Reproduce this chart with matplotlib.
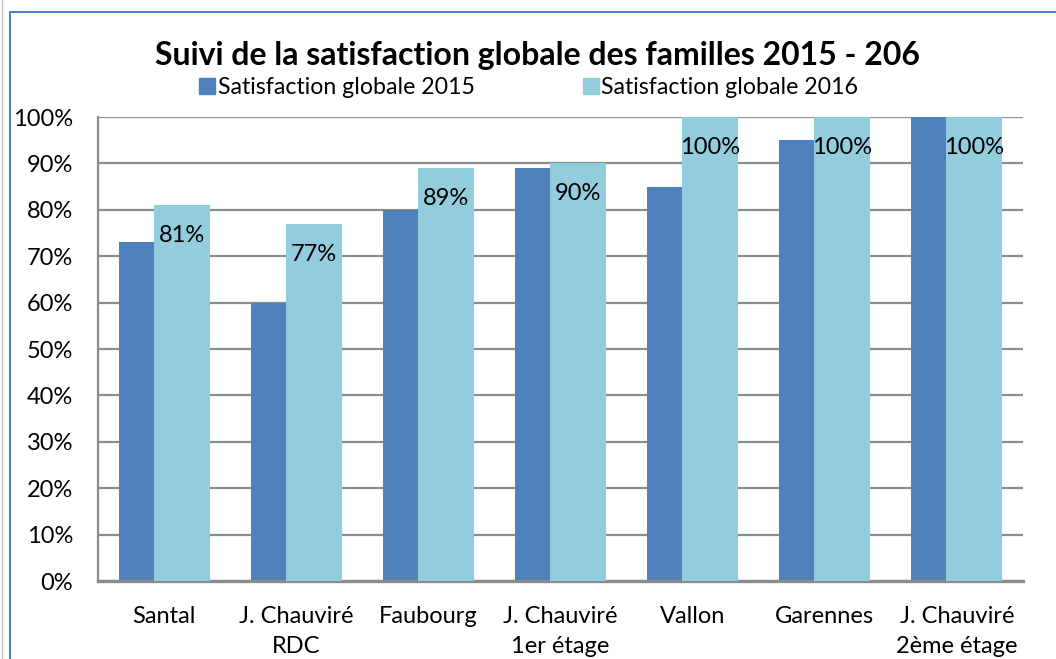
import matplotlib.pyplot as plt
import numpy as np
from matplotlib.patches import Rectangle
from matplotlib.lines import Line2D

plt.rcParams['font.family'] = ['Lato', 'DejaVu Sans']

categories = ["Santal", "J. Chauviré\nRDC", "Faubourg", "J. Chauviré\n1er étage",
              "Vallon", "Garennes", "J. Chauviré\n2ème étage"]
sat_2015 = [73, 60, 80, 89, 85, 95, 100]
sat_2016 = [81, 77, 89, 90, 100, 100, 100]
labels_2016 = ["81%", "77%", "89%", "90%", "100%", "100%", "100%"]

c2015 = "#4F81BD"
c2016 = "#93CDDD"

fig = plt.figure(figsize=(10.56, 6.59), dpi=100)
ax = fig.add_axes([98/1056, 1-581/659, (1023-98)/1056, (581-117)/659])

x = np.arange(len(categories))
w = 0.424
off = 0.1326
ax.bar(x - off, sat_2015, w, color=c2015, zorder=2)
ax.bar(x + off, sat_2016, w, color=c2016, zorder=3)

for xi, v, lab in zip(x, sat_2016, labels_2016):
    ax.annotate(lab, (xi + off, v), xytext=(0, -22), textcoords="offset points",
                ha="center", va="center", fontsize=17, color="black", zorder=4)

ax.set_xlim(-0.5, len(categories) - 0.5)
ax.set_ylim(0, 100)
ax.set_yticks(range(0, 101, 10))
ax.set_yticklabels([f"{t}%" for t in range(0, 101, 10)])
ax.set_xticks(x)
ax.set_xticklabels(categories, linespacing=1.55)
ax.tick_params(axis="both", length=0, labelsize=17, colors="black")
ax.tick_params(axis="y", pad=18)
ax.tick_params(axis="x", pad=18)
ax.yaxis.grid(True, color="#8c8c8c", linewidth=1.6, zorder=0)
ax.set_axisbelow(True)
for s in ["top", "right"]:
    ax.spines[s].set_visible(False)
for s in ["left", "bottom"]:
    ax.spines[s].set_color("#8c8c8c")
ax.spines["left"].set_linewidth(1.6)
ax.spines["bottom"].set_linewidth(2.4)

fig.text(537/1056, 1-56/659, "Suivi de la satisfaction globale des familles 2015 - 206",
         ha="center", va="center", fontsize=23, fontweight="bold")

handles = [Line2D([], [], marker="s", linestyle="none", markersize=12, color=c2015),
           Line2D([], [], marker="s", linestyle="none", markersize=12, color=c2016)]
fig.legend(handles, ["Satisfaction globale 2015", "Satisfaction globale 2016"],
           loc="center", bbox_to_anchor=(528/1056, 1-88/659), ncol=2, frameon=False,
           fontsize=16.7, handletextpad=0.05, columnspacing=4.6, handlelength=0.8)

fig.add_artist(Rectangle((10/1056, -0.1), 1.2, 1-12/659 + 0.1, transform=fig.transFigure,
                         fill=False, edgecolor="#4F81BD", linewidth=1.5))
fig.add_artist(Line2D([2/1056, 2/1056], [0, 1], transform=fig.transFigure,
                      color="#c0c0c0", linewidth=1))

fig.savefig("out.png", dpi=100)
